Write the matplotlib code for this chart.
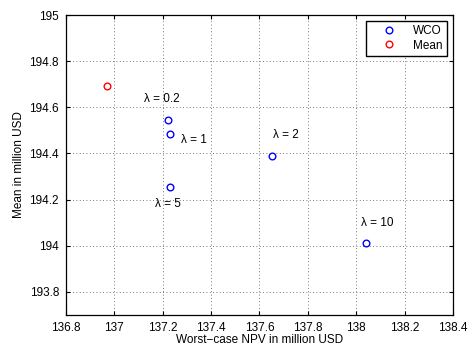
import matplotlib.pyplot as plt

plt.rcParams['font.family'] = ['Liberation Sans', 'DejaVu Sans']

# worst-case optimisation results for different lambda
wco_npv = [137.22, 137.23, 137.65, 137.23, 138.04]
wco_mean = [194.543, 194.483, 194.389, 194.253, 194.013]
lambdas = ['0.2', '1', '2', '5', '10']

# mean optimisation result
mean_npv = [136.968]
mean_mean = [194.691]

# label anchor points (data coords) and alignment
label_x = [137.197, 137.275, 137.709, 137.22, 138.085]
label_y = [194.635, 194.46, 194.478, 194.18, 194.10]
label_ha = ['center', 'left', 'center', 'center', 'center']

fig = plt.figure(figsize=(4.73, 3.46), dpi=100)
ax = fig.add_axes([0.1395, 0.0896, 0.8182, 0.867])

ax.plot(wco_npv, wco_mean, 'o', mfc='none', mec='blue', ms=4.8, mew=1.0, label='WCO')
ax.plot(mean_npv, mean_mean, 'o', mfc='none', mec='red', ms=4.8, mew=1.0, label='Mean')

for x, y, lam, ha in zip(label_x, label_y, lambdas, label_ha):
    ax.text(x, y, '\u03bb = ' + lam, ha=ha, va='center', fontsize=8.5)

ax.set_xlim(136.8, 138.4)
ax.set_ylim(193.7, 195)
ax.set_xticks([136.8, 137, 137.2, 137.4, 137.6, 137.8, 138, 138.2, 138.4])
ax.set_xticklabels(['136.8', '137', '137.2', '137.4', '137.6', '137.8', '138', '138.2', '138.4'])
ax.set_yticks([193.8, 194, 194.2, 194.4, 194.6, 194.8, 195])
ax.set_yticklabels(['193.8', '194', '194.2', '194.4', '194.6', '194.8', '195'])
ax.tick_params(direction='in', top=True, right=True, labelsize=8.5, length=3)
ax.tick_params(axis='y', pad=5)
ax.tick_params(axis='x', pad=5)
ax.grid(True, linestyle=(0, (1, 3)), color='black', linewidth=0.6, alpha=0.7)
for s in ax.spines.values():
    s.set_linewidth(0.9)
ax.set_xlabel('Worst\u2212case NPV in million USD', fontsize=8.5)
ax.set_ylabel('Mean in million USD', fontsize=8.5)
ax.xaxis.set_label_coords(0.5, -0.063)
ax.yaxis.set_label_coords(-0.105, 0.5)

leg = ax.legend(loc='upper right', fontsize=8.5, fancybox=False, framealpha=1,
                edgecolor='black', borderpad=0.35, labelspacing=0.2,
                handlelength=3.2, handletextpad=0.5, borderaxespad=0,
                bbox_to_anchor=(0.9845, 0.98))
leg.get_frame().set_linewidth(1.0)

fig.savefig('out.png', dpi=100)
